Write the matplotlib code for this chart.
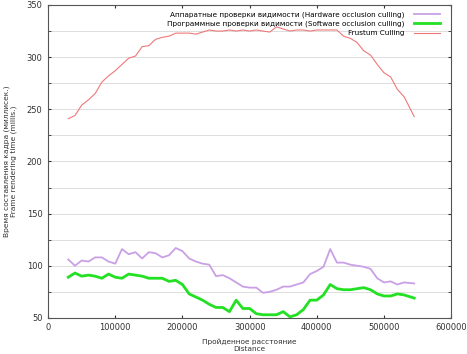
import matplotlib
matplotlib.use('Agg')
import matplotlib.pyplot as plt
from matplotlib.ticker import MultipleLocator

distance = [30000, 40000, 50000, 60000, 70000, 80000, 90000, 100000, 110000, 120000,
            130000, 140000, 150000, 160000, 170000, 180000, 190000, 200000, 210000, 220000,
            230000, 240000, 250000, 260000, 270000, 280000, 290000, 300000, 310000, 320000,
            330000, 340000, 350000, 360000, 370000, 380000, 390000, 400000, 410000, 420000,
            430000, 440000, 450000, 460000, 470000, 480000, 490000, 500000, 510000, 520000,
            530000, 545000]

hardware = [106, 100, 105, 104, 108, 108, 104, 102, 116, 111,
            113, 107, 113, 112, 108, 110, 117, 114, 107, 104,
            102, 101, 90, 91, 88, 84, 80, 79, 79, 74,
            75, 77, 80, 80, 82, 84, 92, 95, 99, 116,
            103, 103, 101, 100, 99, 97, 88, 84, 85, 82,
            84, 83]

software = [89, 93, 90, 91, 90, 88, 92, 89, 88, 92,
            91, 90, 88, 88, 88, 85, 86, 82, 73, 70,
            67, 63, 60, 60, 56, 67, 59, 59, 54, 53,
            53, 53, 56, 51, 53, 58, 67, 67, 72, 82,
            78, 77, 77, 78, 79, 77, 73, 71, 71, 73,
            72, 69]

frustum = [241, 244, 254, 259, 265, 276, 282, 287, 293, 299,
           301, 310, 311, 317, 319, 320, 323, 323, 323, 322,
           324, 326, 325, 325, 326, 325, 326, 325, 326, 325,
           324, 329, 327, 325, 326, 326, 325, 326, 326, 326,
           326, 320, 318, 314, 306, 302, 293, 285, 281, 269,
           262, 243]

labels = ['Аппаратные проверки видимости (Hardware occlusion culling)',
          'Программные проверки видимости (Software occlusion culling)',
          'Frustum Culling']

fig = plt.figure(figsize=(4.67, 3.54), dpi=100)
ax = fig.add_axes([0.103, 0.102, 0.863, 0.884])

ax.plot(distance, hardware, color='#c9a0e6', lw=1.3, label=labels[0])
ax.plot(distance, software, color='#22e022', lw=2.0, label=labels[1])
ax.plot(distance, frustum, color='#f07878', lw=0.8, label=labels[2])

ax.set_xlim(0, 600000)
ax.set_ylim(50, 350)
ax.xaxis.set_major_locator(MultipleLocator(100000))
ax.yaxis.set_major_locator(MultipleLocator(50))
ax.yaxis.set_minor_locator(MultipleLocator(25))
ax.grid(axis='y', which='both', color='#d8d8d8', lw=0.6)
ax.set_axisbelow(True)
ax.tick_params(which='both', direction='in', top=True, right=True,
               labelsize=6, colors='#333333', length=2.5, pad=4)
ax.tick_params(which='minor', length=2)
for s in ax.spines.values():
    s.set_color('#555555')
    s.set_linewidth(0.8)

ax.set_xlabel('Пройденное расстояние\nDistance', fontsize=5.3, color='#333333',
              linespacing=1.1)
ax.xaxis.set_label_coords(0.5, -0.066)
ax.set_ylabel('Время составления кадра (миллисек.)\nFrame rendering time (millis.)',
              fontsize=5.4, color='#333333', linespacing=1.1)
ax.yaxis.set_label_coords(-0.076, 0.5)

ax.legend(loc='upper right', frameon=False, markerfirst=False, fontsize=5.2,
          handlelength=3.6, handletextpad=1.3, labelspacing=0.42,
          borderaxespad=0.0, bbox_to_anchor=(0.98, 0.99))

plt.savefig('out.png', dpi=100)
